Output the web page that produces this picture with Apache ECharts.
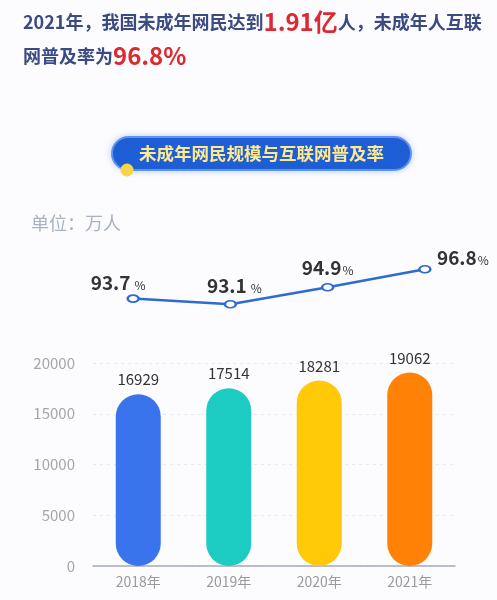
<!DOCTYPE html>
<html>
<head>
<meta charset="utf-8">
<script src="https://cdn.jsdelivr.net/npm/echarts@6/dist/echarts.min.js"></script>
<style>
html,body{margin:0;padding:0;background:#fcfcfe;}
#main{width:497px;height:600px;}
</style>
</head>
<body>
<div id="main"></div>
<script>
// ---- data ----
const years = ['2018年', '2019年', '2020年', '2021年'];
const users = [16929, 17514, 18281, 19062];          // 未成年网民规模（万人）
const rates = [93.7, 93.1, 94.9, 96.8];               // 互联网普及率（%）

// ---- styling (kept separate from data) ----
const barColors = ['#3a74ec', '#1ccbc2', '#ffc908', '#ff8206'];
const rateLabelOffsets = [[-15, 3], [4, 0], [0, -1], [38, 7]];
const rateLabelGaps = [4, 4, 1, 1];
const FONT = '"Noto Sans CJK SC","Noto Sans",sans-serif';

const chart = echarts.init(document.getElementById('main'));

const option = {
  backgroundColor: '#fcfcfe',
  textStyle: { fontFamily: FONT },
  graphic: [
    {
      type: 'text', left: 23, top: 10,
      style: {
        text: '{a|2021年，我国未成年网民达到}{r|1.91亿}{a|人，未成年人互联}',
        rich: {
          a: { fontSize: 18, fontWeight: 'bold', fill: '#3b4a80', fontFamily: FONT },
          r: { fontSize: 24, fontWeight: 'bold', fill: '#dc2a33', fontFamily: FONT }
        }
      }
    },
    {
      type: 'text', left: 23, top: 44,
      style: {
        text: '{a|网普及率为}{r|96.8%}',
        rich: {
          a: { fontSize: 18, fontWeight: 'bold', fill: '#3b4a80', fontFamily: FONT },
          r: { fontSize: 24, fontWeight: 'bold', fill: '#dc2a33', fontFamily: FONT }
        }
      }
    },
    {
      type: 'rect',
      shape: { x: 112, y: 137, width: 299, height: 33, r: 16.5 },
      style: { fill: '#1f5fd6', stroke: '#5f93f2', lineWidth: 2, shadowBlur: 6, shadowColor: 'rgba(31,95,214,0.25)' }
    },
    {
      type: 'text', x: 261.5, y: 153.5,
      style: {
        text: '未成年网民规模与互联网普及率',
        fill: '#ffe98c', fontSize: 17.5, fontWeight: 'bold', fontFamily: FONT,
        align: 'center', verticalAlign: 'middle'
      }
    },
    {
      type: 'circle',
      shape: { cx: 127, cy: 170, r: 6.5 },
      style: { fill: '#f8d544' }
    },
    {
      type: 'text', left: 31, top: 214,
      style: { text: '单位：万人', fill: '#a8b2c0', fontSize: 18, fontFamily: FONT }
    }
  ],
  grid: [
    { left: 84.5, right: 23.5, top: 239, height: 94.6 },
    { left: 93, right: 42, top: 363, bottom: 34 }
  ],
  xAxis: [
    { type: 'category', data: years, gridIndex: 0, show: false, boundaryGap: true },
    {
      type: 'category', data: years, gridIndex: 1,
      axisLine: { lineStyle: { color: '#a3abbb', width: 1.5 } },
      axisTick: { show: false },
      axisLabel: { color: '#9a9a9a', fontSize: 14, margin: 9, fontFamily: FONT }
    }
  ],
  yAxis: [
    { type: 'value', gridIndex: 0, min: 90, max: 100, show: false },
    {
      type: 'value', gridIndex: 1, min: 0, max: 20000, interval: 5000,
      axisLine: { show: false }, axisTick: { show: false },
      axisLabel: { color: '#a5a5a5', fontSize: 15, margin: 18, fontFamily: FONT,
                   formatter: v => String(v) },
      splitLine: { lineStyle: { color: '#e6e9ef', type: [3, 4] } }
    }
  ],
  series: [
    {
      type: 'line', xAxisIndex: 0, yAxisIndex: 0,
      data: rates.map((v, i) => ({
        value: v,
        label: {
          offset: rateLabelOffsets[i],
          rich: { p: { fontSize: 12, color: '#333333', fontFamily: FONT, padding: [5, 0, 0, rateLabelGaps[i]] } }
        }
      })),
      lineStyle: { color: '#2e6bd0', width: 2.5 },
      symbol: 'emptyCircle', symbolSize: [11, 7],
      itemStyle: { color: '#2e6bd0', borderWidth: 2.5, borderColor: '#2e6bd0' },
      label: {
        show: true, position: 'top', distance: 5,
        formatter: p => '{v|' + p.value + '}{p|%}',
        rich: {
          v: { fontSize: 19, fontWeight: 'bold', color: '#333333', fontFamily: FONT },
          p: { fontSize: 12, color: '#333333', fontFamily: FONT, padding: [5, 0, 0, 1] }
        }
      },
      z: 5
    },
    {
      type: 'bar', xAxisIndex: 1, yAxisIndex: 1,
      data: users.map((v, i) => ({ value: v, itemStyle: { color: barColors[i] } })),
      barWidth: 45,
      itemStyle: { borderRadius: 22.5 },
      label: {
        show: true, position: 'top', distance: 7,
        color: '#333333', fontSize: 15, fontFamily: FONT
      }
    }
  ]
};
chart.setOption(option);
</script>
</body>
</html>
